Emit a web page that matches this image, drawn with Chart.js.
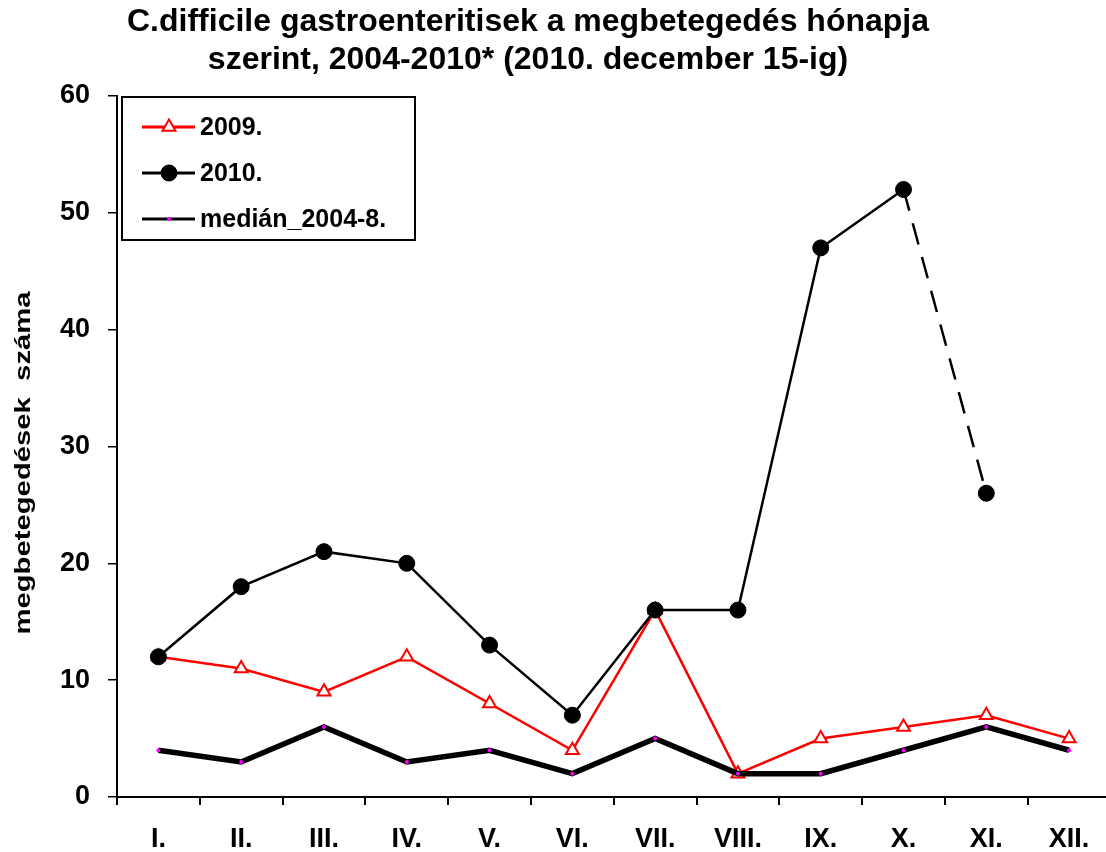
<!DOCTYPE html>
<html>
<head>
<meta charset="utf-8">
<script src="https://cdn.jsdelivr.net/npm/chart.js@4/dist/chart.umd.min.js"></script>
<style>
  body { margin: 0; background: #fff; overflow: hidden; width: 1106px; height: 852px; position: relative; }
  #title {
    position: absolute; left: 0; top: 1px; width: 1056px; text-align: center;
    font: bold 32px "Liberation Sans", Arial, sans-serif; line-height: 38px; color: #000;
  }
  #wrap { position: absolute; left: 0; top: 0; }
</style>
</head>
<body>
<div id="wrap"><canvas id="chart" width="1120" height="852"></canvas></div>
<div id="title">C.difficile gastroenteritisek a megbetegedés hónapja<br>szerint, 2004-2010* (2010. december 15-ig)</div>
<script>
const months = ['I.', 'II.', 'III.', 'IV.', 'V.', 'VI.', 'VII.', 'VIII.', 'IX.', 'X.', 'XI.', 'XII.'];
const cases2009 = [12, 11, 9, 12, 8, 4, 16, 2, 5, 6, 7, 5];
const cases2010 = [12, 18, 21, 20, 13, 7, 16, 16, 47, 52, 26, null];
const median0408 = [4, 3, 6, 3, 4, 2, 5, 2, 2, 4, 6, 4];
const yTicks = [0, 10, 20, 30, 40, 50, 60];
const yTitle = 'megbetegedések  száma';

const FONT = '"Liberation Sans", Arial, sans-serif';

// legend drawn inside the plot, boxed, like the original
const boxLegend = {
    id: 'boxLegend',
    afterDraw(chart) {
        const ctx = chart.ctx;
        const area = chart.chartArea;
        const x0 = area.left + 5, y0 = area.top + 1;
        ctx.save();
        ctx.fillStyle = '#fff';
        ctx.fillRect(x0, y0, 293, 143);
        ctx.strokeStyle = '#000';
        ctx.lineWidth = 2;
        ctx.strokeRect(x0, y0, 293, 143);

        chart.data.datasets.forEach((ds, i) => {
            const y = y0 + 30 + i * 46;
            ctx.strokeStyle = ds.borderColor;
            ctx.lineWidth = 3;
            ctx.setLineDash([]);
            ctx.beginPath();
            ctx.moveTo(x0 + 20, y);
            ctx.lineTo(x0 + 73, y);
            ctx.stroke();
            ctx.fillStyle = ds.pointBackgroundColor;
            ctx.strokeStyle = ds.pointBorderColor;
            ctx.lineWidth = ds.pointBorderWidth;
            Chart.helpers.drawPoint(ctx, {
                pointStyle: ds.pointStyle,
                radius: ds.pointRadius,
                borderWidth: ds.pointBorderWidth,
                rotation: 0
            }, x0 + 47, y);
            ctx.fillStyle = '#000';
            ctx.font = 'bold 25px ' + FONT;
            ctx.textBaseline = 'middle';
            ctx.fillText(ds.label, x0 + 78, y + 1);
        });
        ctx.restore();
    }
};

// y axis title, stretched along its length as in the original
const yAxisTitle = {
    id: 'yAxisTitle',
    afterDraw(chart) {
        const ctx = chart.ctx;
        ctx.save();
        ctx.translate(24, 463);
        ctx.rotate(-Math.PI / 2);
        ctx.scale(1.33, 1);
        ctx.font = 'bold 22px ' + FONT;
        ctx.fillStyle = '#000';
        ctx.textAlign = 'center';
        ctx.textBaseline = 'middle';
        ctx.fillText(yTitle, 0, 0);
        ctx.restore();
    }
};

new Chart(document.getElementById('chart').getContext('2d'), {
    type: 'line',
    data: {
        labels: months,
        datasets: [
            {
                label: '2009.',
                data: cases2009,
                borderColor: '#ff0000',
                borderWidth: 2.5,
                pointStyle: 'triangle',
                pointRadius: 7.5,
                pointBackgroundColor: '#ffffff',
                pointBorderColor: '#ff0000',
                pointBorderWidth: 2,
                tension: 0,
                order: 3
            },
            {
                label: '2010.',
                data: cases2010,
                borderColor: '#000000',
                borderWidth: 2.5,
                pointStyle: 'circle',
                pointRadius: 8,
                pointBackgroundColor: '#000000',
                pointBorderColor: '#000000',
                pointBorderWidth: 1,
                tension: 0,
                spanGaps: false,
                segment: {
                    borderDash: c => c.p0DataIndex === 9 ? [22, 13] : undefined
                },
                order: 2
            },
            {
                label: 'medián_2004-8.',
                data: median0408,
                borderColor: '#000000',
                borderWidth: 5.5,
                pointStyle: 'circle',
                pointRadius: 2,
                pointBackgroundColor: '#ff00ff',
                pointBorderColor: '#ff00ff',
                pointBorderWidth: 0,
                tension: 0,
                order: 1
            }
        ]
    },
    options: {
        responsive: false,
        animation: false,
        devicePixelRatio: 1,
        layout: { padding: { top: 96, right: 0, bottom: 0, left: 0 } },
        plugins: {
            legend: { display: false },
            tooltip: { enabled: false }
        },
        scales: {
            x: {
                offset: true,
                grid: { display: true, drawOnChartArea: false, offset: true, color: '#000', tickLength: 8, lineWidth: 2 },
                border: { display: true, color: '#000', width: 2 },
                ticks: { color: '#000', font: { family: FONT, size: 27, weight: 'bold' }, padding: 18, maxRotation: 0, autoSkip: false },
                afterFit(s) { s.height = 55; }
            },
            y: {
                min: 0,
                max: 60,
                afterBuildTicks(s) { s.ticks = yTicks.map(v => ({ value: v })); },
                grid: { display: true, drawOnChartArea: false, color: '#000', tickLength: 9, lineWidth: 1.5 },
                border: { display: true, color: '#000', width: 2 },
                ticks: { color: '#000', font: { family: FONT, size: 27, weight: 'bold' }, padding: 18 },
                afterFit(s) { s.width = 117; }
            }
        }
    },
    plugins: [boxLegend, yAxisTitle]
});
</script>
</body>
</html>
